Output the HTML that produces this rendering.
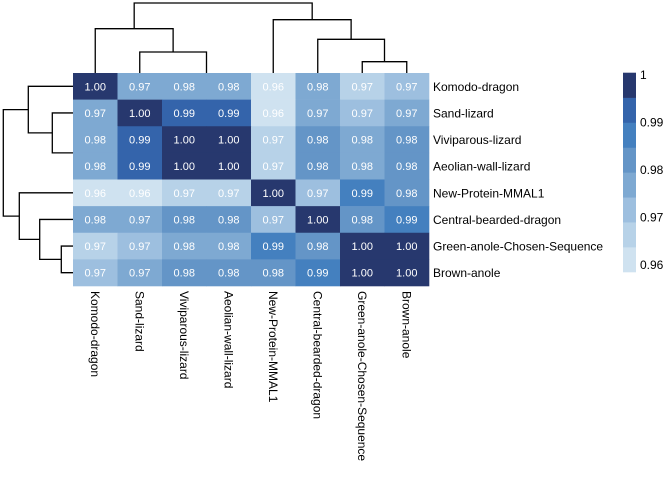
<!DOCTYPE html>
<html><head><meta charset="utf-8"><style>
body{margin:0;background:#fff;}
svg{display:block;font-family:"Liberation Sans",Arial,sans-serif;}
</style></head><body>
<svg id="chart" width="672" height="480" viewBox="0 0 672 480" xmlns="http://www.w3.org/2000/svg">
<g id="dendro" fill="none" stroke="#000" stroke-width="1.3"></g>
<g id="cells"></g>
<g id="rowlabels"></g>
<g id="collabels"></g>
<g id="legend"></g>
</svg>
<script>
const labels = ["Komodo-dragon","Sand-lizard","Viviparous-lizard","Aeolian-wall-lizard","New-Protein-MMAL1","Central-bearded-dragon","Green-anole-Chosen-Sequence","Brown-anole"];
const values = [
 [1.000,0.9745,0.978,0.978,0.961,0.978,0.967,0.971],
 [0.9745,1.000,0.992,0.992,0.961,0.9745,0.971,0.9745],
 [0.978,0.992,1.000,1.000,0.967,0.982,0.978,0.982],
 [0.978,0.992,1.000,1.000,0.967,0.982,0.978,0.982],
 [0.961,0.961,0.967,0.967,1.000,0.971,0.987,0.982],
 [0.978,0.9745,0.982,0.982,0.971,1.000,0.982,0.987],
 [0.967,0.971,0.978,0.978,0.987,0.982,1.000,1.000],
 [0.971,0.9745,0.982,0.982,0.982,0.987,1.000,1.000]
];
const legendTicks = [1,0.99,0.98,0.97,0.96];
const legendTickLabels = ["1","0.99","0.98","0.97","0.96"];
const palette = ["#cfe2f0","#b7d2e8","#9dbfdf","#7ea9d2","#6495c7","#4480bf","#3464ab","#27386e"];
const vmin = 0.9585, vmax = 1.0005;

const NS="http://www.w3.org/2000/svg";
function mk(tag, attrs, parent){const e=document.createElementNS(NS,tag);for(const k in attrs)e.setAttribute(k,attrs[k]);parent.appendChild(e);return e;}
const x0=73, y0=73, cw=(429-73)/8, ch=(286-73)/8;
const xc=i=>x0+cw*(i+0.5), yc=i=>y0+ch*(i+0.5);
function colorFor(v){let b=Math.floor((v-vmin)/(vmax-vmin)*palette.length);b=Math.max(0,Math.min(palette.length-1,b));return palette[b];}

const cells=document.getElementById('cells');
values.forEach((row,r)=>row.forEach((v,c)=>{
  const rect=mk('rect',{x:x0+cw*c,y:y0+ch*r,width:cw+0.3,height:ch+0.3,fill:colorFor(v)},cells);
  
  
  const t=mk('text',{x:xc(c),y:yc(r)+4,'text-anchor':'middle','font-size':'11',fill:'#fff'},cells);
  t.textContent=v.toFixed(2);
  
  
}));

const rl=document.getElementById('rowlabels'), cl=document.getElementById('collabels');
labels.forEach((l,i)=>{
  const t=mk('text',{x:433,y:yc(i)+4.5,'font-size':'12',fill:'#000'},rl);
  t.textContent=l;
  
  
  const u=mk('text',{transform:`translate(${xc(i)-4.5},291) rotate(90)`,'font-size':'12',fill:'#000'},cl);
  u.textContent=l;
  
  
});

// dendrograms (column: [x1,x2,h,childH1,childH2] in index space)
const dg=document.getElementById('dendro');
function colLink(a,b,y,ya,yb){mk('path',{d:`M${a},${ya}V${y}H${b}V${yb}`},dg);}
function rowLink(a,b,x,xa,xb){mk('path',{d:`M${xa},${a}H${x}V${b}H${xb}`},dg);}
const m23=(xc(2)+xc(3))/2, m67=(xc(6)+xc(7))/2;
const sva=(xc(1)+m23)/2, ksva=(xc(0)+sva)/2;
colLink(xc(1),m23,52,73,73);
colLink(xc(0),sva,28.7,73,52);
colLink(xc(6),xc(7),61.7,73,73);
colLink(xc(5),m67,39.3,73,61.7);
const cgb=(xc(5)+m67)/2;
colLink(xc(4),cgb,19.7,73,39.3);
colLink(ksva,(xc(4)+cgb)/2,3,28.7,19.7);
const r23=(yc(2)+yc(3))/2, rs=(yc(1)+r23)/2, rk=(yc(0)+rs)/2;
rowLink(yc(1),r23,52.3,73,73);
rowLink(yc(0),rs,28.3,73,52.3);
const r67=(yc(6)+yc(7))/2, r5=(yc(5)+r67)/2, r4=(yc(4)+r5)/2;
rowLink(yc(6),yc(7),61.3,73,73);
rowLink(yc(5),r67,39.7,73,61.3);
rowLink(yc(4),r5,19.3,73,39.7);
rowLink(rk,r4,3.3,28.3,19.3);

// legend
const lg=document.getElementById('legend');
const ly0=72.7, ly1=272, lx=623, lw=13;
palette.forEach((c,i)=>{
  const h=(ly1-ly0)/palette.length;
  const r=mk('rect',{x:lx,y:ly1-h*(i+1),width:lw,height:h+0.3,fill:c},lg);
  
  
});
const ly=v=>ly1-(v-vmin)/(vmax-vmin)*(ly1-ly0);
legendTicks.forEach((v,i)=>{
  const t=mk('text',{x:640,y:ly(v)+4,'font-size':'12',fill:'#000'},lg);
  t.textContent=legendTickLabels[i];
  
  
});
</script>
</body></html>
